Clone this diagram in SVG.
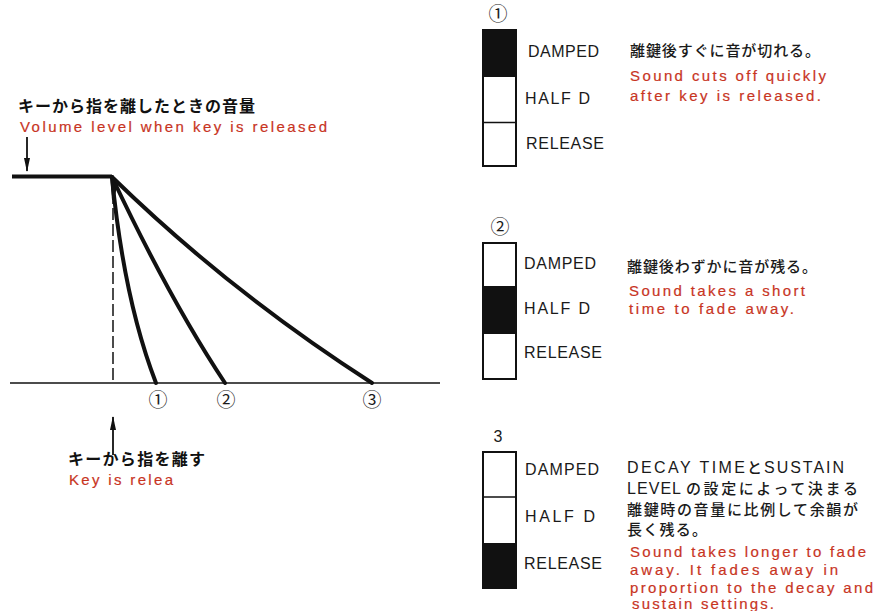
<svg xmlns="http://www.w3.org/2000/svg" width="887" height="611" viewBox="0 0 887 611">
<defs>
<marker id="ah" viewBox="0 0 14 6" refX="13" refY="3" markerWidth="14" markerHeight="6" orient="auto" markerUnits="userSpaceOnUse">
<path d="M0,0 L14,3 L0,6 z" fill="#111"/>
</marker>
<style>
.jp{font-family:"Noto Sans CJK JP","Noto Sans",sans-serif;fill:#1a1a1a;font-weight:500}
.jpb{font-family:"Noto Sans CJK JP","Noto Sans",sans-serif;fill:#111;font-weight:700}
.lat{font-family:"Liberation Sans",sans-serif;font-weight:400;font-size:16px}
.en{font-family:"Liberation Sans","Noto Sans CJK JP",sans-serif;fill:#c8351f;font-size:15px;stroke:#c8351f;stroke-width:0.2}
.lbl{font-family:"Liberation Sans",sans-serif;fill:#1a1a1a;font-size:16px}
.num{font-family:"Noto Sans CJK JP","DejaVu Sans",sans-serif;fill:#1a1a1a;font-size:19px;text-anchor:middle}
.bar{fill:#fff;stroke:#111;stroke-width:2}
.blk{fill:#111}
.div{stroke:#111;stroke-width:1.5}
.curve{fill:none;stroke:#111;stroke-width:4;stroke-linecap:round}
</style>
</defs>
<rect width="887" height="611" fill="#fff"/>

<g id="graph">
<line x1="10" y1="383" x2="440" y2="383" stroke="#111" stroke-width="1.6"/>
<line x1="12" y1="176.5" x2="112" y2="176.5" stroke="#111" stroke-width="4"/>
<line x1="113" y1="192" x2="113" y2="383" stroke="#111" stroke-width="1.5" stroke-dasharray="12,4"/>
<path d="M110,175 L118,182 L114,200 L112,200 z" fill="#111"/>
</g>

<g id="connectors">
<path class="curve" d="M112,177 Q124,300 156,383"/>
<path class="curve" d="M112,177 Q170,300 225,383"/>
<path class="curve" d="M112,177 Q230,292 372,383"/>
<line x1="27" y1="137" x2="27" y2="171" stroke="#111" stroke-width="1.8" marker-end="url(#ah)"/>
<line x1="113" y1="455" x2="113" y2="417" stroke="#111" stroke-width="1.8" marker-end="url(#ah)"/>
</g>

<g id="curve-labels">
<text class="num" x="158" y="407">①</text>
<text class="num" x="226" y="407">②</text>
<text class="num" x="372" y="407">③</text>
</g>

<g id="top-label">
<text class="jpb" x="18" y="112" font-size="16" textLength="237" lengthAdjust="spacing">キーから指を離したときの音量</text>
<text class="en" x="20" y="132" textLength="307" lengthAdjust="spacing">Volume level when key is released</text>
</g>

<g id="bottom-label">
<text class="jpb" x="68" y="465" font-size="16" textLength="137" lengthAdjust="spacing">キーから指を離す</text>
<text class="en" x="69" y="485" textLength="104" lengthAdjust="spacing">Key is relea</text>
</g>

<g id="bar1">
<text class="num" x="498" y="21">①</text>
<rect class="bar" x="483" y="30" width="33" height="136"/>
<rect class="blk" x="483" y="30" width="33" height="47"/>
<line class="div" x1="483" y1="122.5" x2="516" y2="122.5"/>
<text class="lbl" x="528" y="57" textLength="71" lengthAdjust="spacing">DAMPED</text>
<text class="lbl" x="525" y="104" textLength="65" lengthAdjust="spacing">HALF D</text>
<text class="lbl" x="526" y="149" textLength="78" lengthAdjust="spacing">RELEASE</text>
<text class="jp" x="630" y="56" font-size="15" textLength="190" lengthAdjust="spacing">離鍵後すぐに音が切れる。</text>
<text class="en" x="630" y="81" textLength="196" lengthAdjust="spacing">Sound cuts off quickly</text>
<text class="en" x="630" y="101" textLength="191" lengthAdjust="spacing">after key is released.</text>
</g>

<g id="bar2">
<text class="num" x="500" y="234">②</text>
<rect class="bar" x="483" y="243" width="33" height="136"/>
<rect class="blk" x="483" y="286" width="33" height="48"/>
<text class="lbl" x="524" y="269" textLength="72" lengthAdjust="spacing">DAMPED</text>
<text class="lbl" x="524" y="314" textLength="66" lengthAdjust="spacing">HALF D</text>
<text class="lbl" x="524" y="358" textLength="78" lengthAdjust="spacing">RELEASE</text>
<text class="jp" x="627" y="272" font-size="15" textLength="190" lengthAdjust="spacing">離鍵後わずかに音が残る。</text>
<text class="en" x="629" y="296" textLength="176" lengthAdjust="spacing">Sound takes a short</text>
<text class="en" x="629" y="314" textLength="165" lengthAdjust="spacing">time to fade away.</text>
</g>

<g id="bar3">
<text class="lbl" x="498" y="442" font-size="13" text-anchor="middle">3</text>
<rect class="bar" x="483" y="452" width="33" height="136"/>
<rect class="blk" x="483" y="543" width="33" height="45"/>
<line class="div" x1="483" y1="497" x2="516" y2="497"/>
<text class="lbl" x="525" y="475" textLength="74" lengthAdjust="spacing">DAMPED</text>
<text class="lbl" x="525" y="522" textLength="70" lengthAdjust="spacing">HALF D</text>
<text class="lbl" x="524" y="569" textLength="78" lengthAdjust="spacing">RELEASE</text>
<text class="jp" y="473" font-size="15"><tspan class="lat" x="627" textLength="118" lengthAdjust="spacing">DECAY TIME</tspan><tspan x="747">と</tspan><tspan class="lat" x="764" textLength="80" lengthAdjust="spacing">SUSTAIN</tspan></text>
<text class="jp" y="494" font-size="15"><tspan class="lat" x="627" textLength="54" lengthAdjust="spacing">LEVEL</tspan><tspan x="686" textLength="172" lengthAdjust="spacing">の設定によって決まる</tspan></text>
<text class="jp" x="627" y="515" font-size="15" textLength="231" lengthAdjust="spacing">離鍵時の音量に比例して余韻が</text>
<text class="jp" x="627" y="535" font-size="15" textLength="80" lengthAdjust="spacing">長く残る。</text>
<text class="en" x="630" y="557" textLength="236" lengthAdjust="spacing">Sound takes longer to fade</text>
<text class="en" x="630" y="575" textLength="208" lengthAdjust="spacing">away. It fades away in</text>
<text class="en" x="630" y="593" textLength="243" lengthAdjust="spacing">proportion to the decay and</text>
<text class="en" x="632" y="609" textLength="142" lengthAdjust="spacing">sustain settings.</text>
</g>
</svg>
